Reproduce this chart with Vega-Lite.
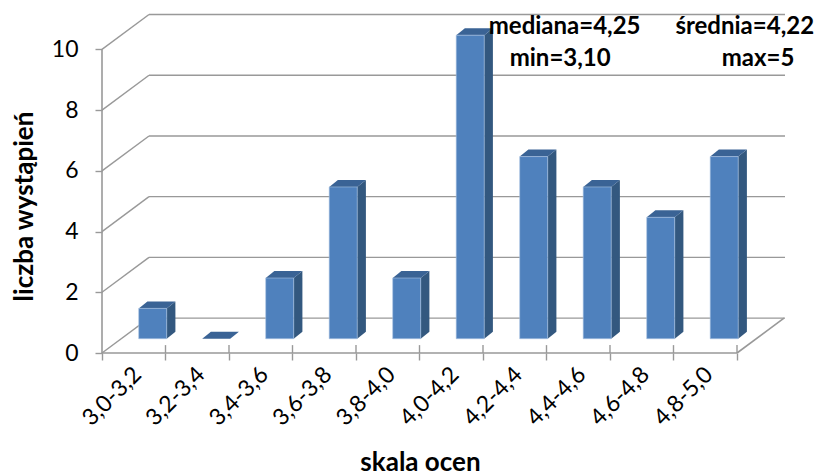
{
"$schema":"https://vega.github.io/schema/vega-lite/v6.json",
"width":683,"height":340,
"autosize":"none",
"padding":{"left":102,"top":13,"right":35,"bottom":122},
"background":"white",
"config":{"view":{"stroke":null},"font":"Lato","axis":{"grid":false}},
"datasets":{
"bars":[
{"przedzial":"3,0-3,2","liczba":1},
{"przedzial":"3,2-3,4","liczba":0},
{"przedzial":"3,4-3,6","liczba":2},
{"przedzial":"3,6-3,8","liczba":5},
{"przedzial":"3,8-4,0","liczba":2},
{"przedzial":"4,0-4,2","liczba":10},
{"przedzial":"4,2-4,4","liczba":6},
{"przedzial":"4,4-4,6","liczba":5},
{"przedzial":"4,6-4,8","liczba":4},
{"przedzial":"4,8-5,0","liczba":6}],
"levels":[{"v":0},{"v":2},{"v":4},{"v":6},{"v":8},{"v":10}],
"ticks":[{"k":1},{"k":2},{"k":3},{"k":4},{"k":5},{"k":6},{"k":7},{"k":8},{"k":9},{"k":10}]
},
"layer":[
{"data":{"name":"levels"},
 "transform":[{"calculate":"datum.v+1.15","as":"back"},{"calculate":"0","as":"x0"},{"calculate":"0.74","as":"x1"}],
 "mark":{"type":"rule","color":"#999999","strokeWidth":1.4},
 "encoding":{
  "x":{"field":"x0","type":"quantitative","scale":{"domain":[0,10.756],"nice":false,"zero":false},
   "axis":{"values":[0,1,2,3,4,5,6,7,8,9,10],"labels":false,"grid":false,"ticks":true,"tickSize":7,"tickColor":"#999999","tickWidth":1.4,"domain":false,
    "title":"skala ocen","titleFont":"Lato","titleFontSize":26,"titleFontWeight":"bold","titleColor":"#000000","titleX":318,"titleY":109,"titleBaseline":"middle"}},
  "x2":{"field":"x1"},
  "y":{"field":"v","type":"quantitative","scale":{"domain":[0,11.2],"nice":false,"zero":false},
   "axis":{"values":[0,2,4,6,8,10],"format":"d","grid":false,"tickSize":7,"tickColor":"#999999","tickWidth":1.4,"domain":false,"labelFont":"Lato","labelFontSize":23,"labelColor":"#000000","labelPadding":17,
    "title":"liczba wystąpień","titleFont":"Lato","titleFontSize":26,"titleFontWeight":"bold","titleColor":"#000000","titleX":-78,"titleY":193,"titleAngle":270,"titleBaseline":"middle"}},
  "y2":{"field":"back"}
 }},
{"data":{"name":"levels"},
 "transform":[{"calculate":"datum.v+1.15","as":"back"},{"calculate":"0.74","as":"x0"},{"calculate":"10.756","as":"x1"}],
 "mark":{"type":"rule","color":"#999999","strokeWidth":1.4},
 "encoding":{
  "x":{"field":"x0","type":"quantitative"},
  "x2":{"field":"x1"},
  "y":{"field":"back","type":"quantitative"}
 }},
{"data":{"values":[{"x0":10,"x1":10.74,"y0":0,"y1":1.15},{"x0":0,"x1":0,"y0":0,"y1":10},{"x0":0,"x1":10,"y0":0,"y1":0}]},
 "mark":{"type":"rule","color":"#999999","strokeWidth":1.6},
 "encoding":{
  "x":{"field":"x0","type":"quantitative"},
  "x2":{"field":"x1"},
  "y":{"field":"y0","type":"quantitative"},
  "y2":{"field":"y1"}
 }},
{"data":{"name":"ticks"},
 "transform":[{"calculate":"0","as":"y0"},{"calculate":"0.26","as":"y1"}],
 "mark":{"type":"rule","color":"#999999","strokeWidth":1.4},
 "encoding":{
  "x":{"field":"k","type":"quantitative"},
  "y":{"field":"y0","type":"quantitative"},
  "y2":{"field":"y1"}
 }},
{"data":{"name":"bars"},
 "transform":[
  {"window":[{"op":"row_number","as":"i"}]},
  {"calculate":"datum.i-1+0.578","as":"a"},
  {"calculate":"datum.a+0.441","as":"b"},
  {"calculate":"0.47+datum.liczba","as":"t"},
  {"calculate":"[datum.b,datum.b+0.137]","as":"xs"},
  {"calculate":"[0.47,0.47+0.23]","as":"lo"},
  {"calculate":"[datum.t,datum.t+0.23]","as":"hi"},
  {"flatten":["xs","lo","hi"]}
 ],
 "mark":{"type":"area","color":"#33587f","opacity":1},
 "encoding":{
  "x":{"field":"xs","type":"quantitative"},
  "y":{"field":"lo","type":"quantitative"},
  "y2":{"field":"hi"},
  "detail":{"field":"i"}
 }},
{"data":{"name":"bars"},
 "transform":[
  {"window":[{"op":"row_number","as":"i"}]},
  {"calculate":"datum.i-1+0.578","as":"a"},
  {"calculate":"datum.a+0.441","as":"b"},
  {"calculate":"0.47+datum.liczba","as":"t"},
  {"calculate":"[datum.a,datum.a+0.137,datum.b,datum.b+0.137]","as":"xs"},
  {"calculate":"[datum.t,datum.t,datum.t,datum.t+0.23]","as":"lo"},
  {"calculate":"[datum.t,datum.t+0.23,datum.t+0.23,datum.t+0.23]","as":"hi"},
  {"flatten":["xs","lo","hi"]}
 ],
 "mark":{"type":"area","color":"#3a6395","opacity":1},
 "encoding":{
  "x":{"field":"xs","type":"quantitative"},
  "y":{"field":"lo","type":"quantitative"},
  "y2":{"field":"hi"},
  "detail":{"field":"i"}
 }},
{"data":{"name":"bars"},
 "transform":[
  {"window":[{"op":"row_number","as":"i"}]},
  {"calculate":"datum.i-1+0.578","as":"a"},
  {"calculate":"datum.a+0.441","as":"b"},
  {"calculate":"0.47","as":"base"},
  {"calculate":"0.47+datum.liczba","as":"t"},
  {"filter":"datum.liczba>0"}
 ],
 "mark":{"type":"rect","color":"#4f81bd","stroke":"#a9c3e2","strokeWidth":0.6},
 "encoding":{
  "x":{"field":"a","type":"quantitative"},
  "x2":{"field":"b"},
  "y":{"field":"base","type":"quantitative"},
  "y2":{"field":"t"}
 }},
{"data":{"name":"bars"},
 "transform":[{"window":[{"op":"row_number","as":"i"}]},{"calculate":"datum.i-0.5","as":"c"},{"calculate":"0","as":"y0"}],
 "mark":{"type":"text","angle":315,"align":"right","baseline":"middle","font":"Lato","fontSize":23,"color":"#000000","yOffset":18,"xOffset":4},
 "encoding":{
  "x":{"field":"c","type":"quantitative"},
  "y":{"field":"y0","type":"quantitative"},
  "text":{"field":"przedzial"}
 }},
{"data":{"values":[{"t":"mediana=4,25","px":6.09,"py":10.74},{"t":"średnia=4,22","px":9.03,"py":10.74},{"t":"min=3,10","px":6.42,"py":9.68},{"t":"max=5","px":9.76,"py":9.68}]},
 "mark":{"type":"text","align":"left","baseline":"middle","font":"Lato","fontSize":24,"fontWeight":"bold","color":"#000000","clip":false},
 "encoding":{
  "x":{"field":"px","type":"quantitative"},
  "y":{"field":"py","type":"quantitative"},
  "text":{"field":"t"}
 }}
]
}
